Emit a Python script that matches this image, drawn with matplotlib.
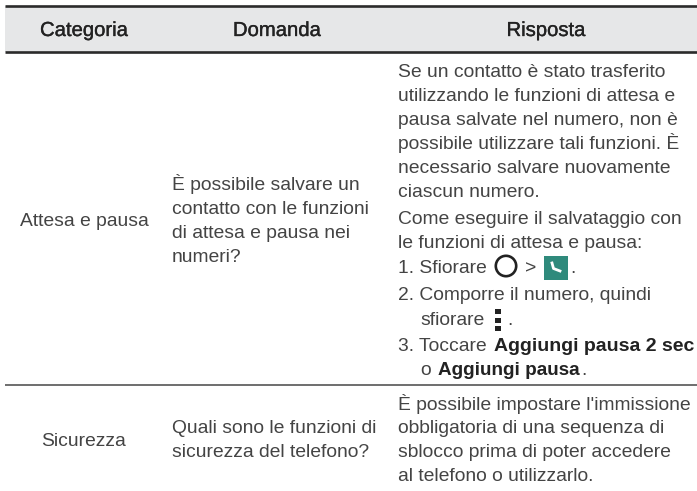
import matplotlib
matplotlib.use("Agg")
import matplotlib.pyplot as plt
import matplotlib.patheffects as pe
from matplotlib.patches import Rectangle, Circle

W, H = 697, 491
plt.rcParams['font.family'] = ['Liberation Sans', 'DejaVu Sans']

headers = ["Categoria", "Domanda", "Risposta"]
categories = ["Attesa e pausa", "Sicurezza"]
questions = [
    ["È possibile salvare un", "contatto con le funzioni", "di attesa e pausa nei", "numeri?"],
    ["Quali sono le funzioni di", "sicurezza del telefono?"],
]
answer1 = [
    "Se un contatto è stato trasferito",
    "utilizzando le funzioni di attesa e",
    "pausa salvate nel numero, non è",
    "possibile utilizzare tali funzioni. È",
    "necessario salvare nuovamente",
    "ciascun numero.",
    "Come eseguire il salvataggio con",
    "le funzioni di attesa e pausa:",
]
answer2 = [
    "È possibile impostare l'immissione",
    "obbligatoria di una sequenza di",
    "sblocco prima di poter accedere",
    "al telefono o utilizzarlo.",
]

fig = plt.figure(figsize=(W / 100, H / 100), dpi=100)
ax = fig.add_axes([0, 0, 1, 1])
ax.set_xlim(0, W)
ax.set_ylim(H, 0)
ax.axis('off')

TC = '#444444'
DK = '#222222'
FS = 13.9
header_x = [84, 277, 546]
ax.add_patch(Rectangle((5, 6), W - 5, 46, fc='#e6e7e8', ec='none'))
ax.plot([5, W], [6.3, 6.3], color='#2b2b2b', lw=1.9, solid_capstyle='butt')
ax.plot([5, W], [52, 52], color='#2b2b2b', lw=1.9, solid_capstyle='butt')
ax.plot([5, W], [385, 385], color='#555555', lw=1.2, solid_capstyle='butt')

for s, x in zip(headers, header_x):
    ax.text(x, 36, s, ha='center', va='baseline', fontsize=14.6, color=DK,
            path_effects=[pe.withStroke(linewidth=0.25, foreground=DK)])

def T(x, y, s, **kw):
    kw.setdefault('color', TC)
    kw.setdefault('fontsize', FS)
    return ax.text(x, y, s, ha=kw.pop('ha', 'left'), va='baseline', **kw)

T(84, 226, categories[0], ha='center')
T(84, 446, categories[1], ha='center')

Q_X, A_X, IND = 172, 398, 420
for y, s in zip([190, 214, 238, 262], questions[0]):
    T(Q_X, y, s)
for y, s in zip([433, 457], questions[1]):
    T(Q_X, y, s)

for y, s in zip([77, 101, 125, 149, 173, 197, 224, 248], answer1):
    T(A_X, y, s)

y1, y2, y3, y4, y5 = 273, 300, 325, 351, 375
T(A_X, y1, "1. Sfiorare")
ax.add_patch(Circle((506, y1 - 7), 10.2, fc='none', ec=DK, lw=1.9))
T(525, y1, ">")
ax.add_patch(Rectangle((544, y1 - 17), 24, 24, fc='#2f8a7c', ec='none'))
ax.plot([552, 553.5, 560], [y1 - 10, y1 - 4.5, y1 - 2], color='white', lw=2.0)
T(570, y1, ".")
T(A_X, y2, "2. Comporre il numero, quindi")
T(IND, y3, "sfiorare")
for d in (0, 8.5, 17):
    ax.add_patch(Rectangle((495, y3 - 16 + d), 6, 5, fc=DK, ec='none'))
T(507, y3, ".")
T(A_X, y4, "3. Toccare")
T(494, y4, "Aggiungi pausa 2 sec", fontweight='bold', color=DK, fontsize=14)
T(IND, y5, "o")
T(438, y5, "Aggiungi pausa", fontweight='bold', color=DK, fontsize=13.6)
T(581, y5, ".")

for y, s in zip([410, 433, 457, 481], answer2):
    T(A_X, y, s)

fig.savefig('out.png', dpi=100)
